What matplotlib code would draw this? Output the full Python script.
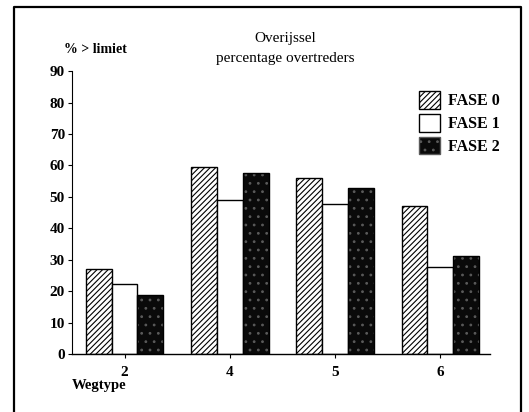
import numpy as np
import matplotlib
matplotlib.use("Agg")
import matplotlib.pyplot as plt
from matplotlib.patches import Patch

# data
wegtype = ["2", "4", "5", "6"]
fase0 = [27.1, 59.4, 55.9, 47.0]
fase1 = [22.2, 48.9, 47.8, 27.6]
fase2 = [18.8, 57.7, 52.7, 31.1]
labels = ["FASE 0", "FASE 1", "FASE 2"]

plt.rcParams['font.family'] = ['Liberation Serif', 'DejaVu Serif']
plt.rcParams['hatch.linewidth'] = 0.8

fig = plt.figure(figsize=(5.29, 4.12), dpi=100)
ax = fig.add_axes([0.136, 0.141, 0.79, 0.686])

x = np.arange(len(wegtype))
w = 0.245

ax.bar(x - w, fase0, w, facecolor='white', edgecolor='black', hatch='//////', linewidth=1.0)
ax.bar(x, fase1, w, facecolor='white', edgecolor='black', linewidth=1.0)
ax.bar(x + w, fase2, w, facecolor='#0a0a0a', edgecolor='#5a5a5a', hatch='..', linewidth=0)
ax.bar(x + w, fase2, w, facecolor='none', edgecolor='black', linewidth=1.0)

ax.set_xlim(-0.5, 3.47)
ax.set_ylim(0, 90)
ax.set_yticks(range(0, 91, 10))
ax.set_xticks(x)
ax.set_xticklabels(wegtype)
for s in ['top', 'right']:
    ax.spines[s].set_visible(False)
ax.spines['left'].set_linewidth(0.8)
ax.spines['bottom'].set_linewidth(1.0)
ax.tick_params(axis='y', length=3, width=0.8, labelsize=11, pad=2)
ax.tick_params(axis='x', length=3, width=0.8, labelsize=11, pad=6)
for t in ax.get_xticklabels() + ax.get_yticklabels():
    t.set_fontweight('bold')

fig.text(0.54, 0.907, "Overijssel", ha='center', va='center', fontsize=11)
fig.text(0.54, 0.858, "percentage overtreders", ha='center', va='center', fontsize=11)
fig.text(0.18, 0.88, "% > limiet", ha='center', va='center', fontsize=10, fontweight='bold')
fig.text(0.135, 0.064, "Wegtype", ha='left', va='center', fontsize=10.5, fontweight='bold')

handles = [Patch(facecolor='white', edgecolor='black', hatch='//////'),
           Patch(facecolor='white', edgecolor='black'),
           Patch(facecolor='#0a0a0a', edgecolor='#5a5a5a', hatch='..')]
ax.legend(handles, labels, loc='upper left', bbox_to_anchor=(0.795, 0.98),
          frameon=False, handlelength=1.35, handleheight=1.3,
          handletextpad=0.5, labelspacing=0.3, prop={'weight': 'bold', 'size': 11.5})

# page frame (bottom edge runs off the picture)
fig.add_artist(plt.Line2D([0.027, 0.027, 0.985, 0.985], [0.0, 0.983, 0.983, 0.0],
                          transform=fig.transFigure, color='black', linewidth=1.6))

fig.savefig("out.png", dpi=100)
